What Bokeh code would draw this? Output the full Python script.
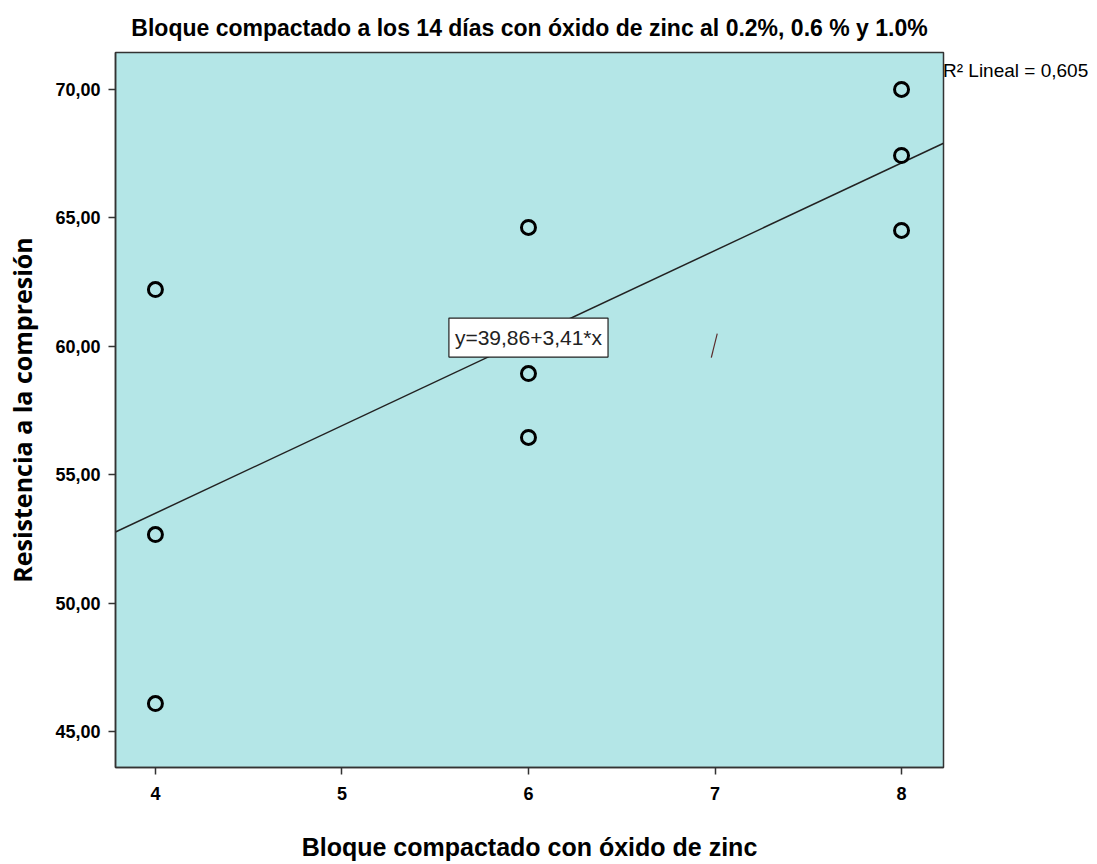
from bokeh.plotting import figure
from bokeh.models import Range1d, FixedTicker, Label, ColumnDataSource, Legend, LegendItem
from bokeh.embed import file_html
from bokeh.resources import INLINE

# Data
x_vals = [4, 4, 4, 6, 6, 6, 8, 8, 8]
y_vals = [62.21, 52.67, 46.09, 64.63, 58.94, 56.45, 70.00, 67.43, 64.51]
intercept = 39.86
slope = 3.41
r2_text = "R² Lineal = 0,605"
eq_text = "y=39,86+3,41*x"
x_ticks = [4, 5, 6, 7, 8]
y_ticks = [45, 50, 55, 60, 65, 70]
y_tick_labels = ["45,00", "50,00", "55,00", "60,00", "65,00", "70,00"]
# small stray mark in the reference
mark_x = [6.98, 7.012]
mark_y = [59.56, 60.49]

x_lo, x_hi = 3.786, 8.225
y_lo, y_hi = 43.60, 71.44

p = figure(frame_width=828, frame_height=715, output_backend="svg", toolbar_location=None,
           x_range=Range1d(x_lo, x_hi), y_range=Range1d(y_lo, y_hi),
           title="Bloque compactado a los 14 días con óxido de zinc al 0.2%, 0.6 % y 1.0%",
           min_border_left=115, min_border_right=154, min_border_top=52, min_border_bottom=97)

p.background_fill_color = "#b4e6e7"
p.border_fill_color = "white"
p.outline_line_color = "#333333"
p.outline_line_width = 1.5
p.grid.visible = False

p.title.align = "center"
p.title.text_font = "Liberation Sans"
p.title.text_font_size = "23px"
p.title.text_font_style = "bold"
p.title.text_color = "black"
p.title.standoff = 24

for ax in (p.xaxis[0], p.yaxis[0]):
    ax.major_tick_out = 7
    ax.major_tick_in = 0
    ax.minor_tick_line_color = None
    ax.axis_line_color = "#333333"
    ax.axis_line_width = 1.5
    ax.major_tick_line_color = "#333333"
    ax.major_tick_line_width = 1.5
    ax.major_label_text_font = "Liberation Sans"
    ax.major_label_text_font_style = "bold"
    ax.major_label_text_font_size = "18px"
    ax.major_label_text_color = "black"
    ax.axis_label_text_font_style = "bold"
    ax.axis_label_text_color = "black"

p.xaxis.major_label_standoff = 12
p.yaxis.major_label_standoff = 8
p.xaxis.ticker = FixedTicker(ticks=x_ticks)
p.yaxis.ticker = FixedTicker(ticks=y_ticks)
p.yaxis.major_label_overrides = {t: l for t, l in zip(y_ticks, y_tick_labels)}

p.xaxis.axis_label = "Bloque compactado con óxido de zinc"
p.xaxis.axis_label_text_font = "Liberation Sans"
p.xaxis.axis_label_text_font_size = "25px"
p.xaxis.axis_label_standoff = 30

p.yaxis.axis_label = "Resistencia a la compresión"
p.yaxis.axis_label_text_font = "Open Sans"
p.yaxis.axis_label_text_font_size = "25px"
p.yaxis.axis_label_standoff = 13

# regression line
lx = [x_lo, x_hi]
ly = [intercept + slope * v for v in lx]
fit = p.line(lx, ly, line_color="#222222", line_width=1.5)

# points
src = ColumnDataSource(dict(x=x_vals, y=y_vals))
p.scatter("x", "y", source=src, size=14, fill_color=None, line_color="black", line_width=3)

# stray mark
p.line(mark_x, mark_y, line_color="#5a2a2a", line_width=1.2)

# equation label
eq = Label(x=6, y=60.34, text=eq_text, text_align="center", text_baseline="middle",
           text_font="Liberation Sans", text_font_size="21px", text_color="#222222",
           background_fill_color="white", border_line_color="#222222", border_line_width=1.2,
           padding=(6, 8))
p.add_layout(eq)

# R² note outside the frame, via a glyph-less legend in the right panel
dummy = p.line([x_lo, x_lo], [y_lo, y_lo], line_alpha=0)
leg = Legend(items=[LegendItem(label=r2_text, renderers=[dummy])], location="top_left",
             glyph_width=0, glyph_height=38, label_standoff=0, padding=2, margin=0,
             border_line_color=None, background_fill_alpha=0,
             label_text_font="Liberation Sans", label_text_font_size="19px",
             label_text_color="black")
p.add_layout(leg, "right")

open("out.html", "w").write(file_html(p, INLINE))
